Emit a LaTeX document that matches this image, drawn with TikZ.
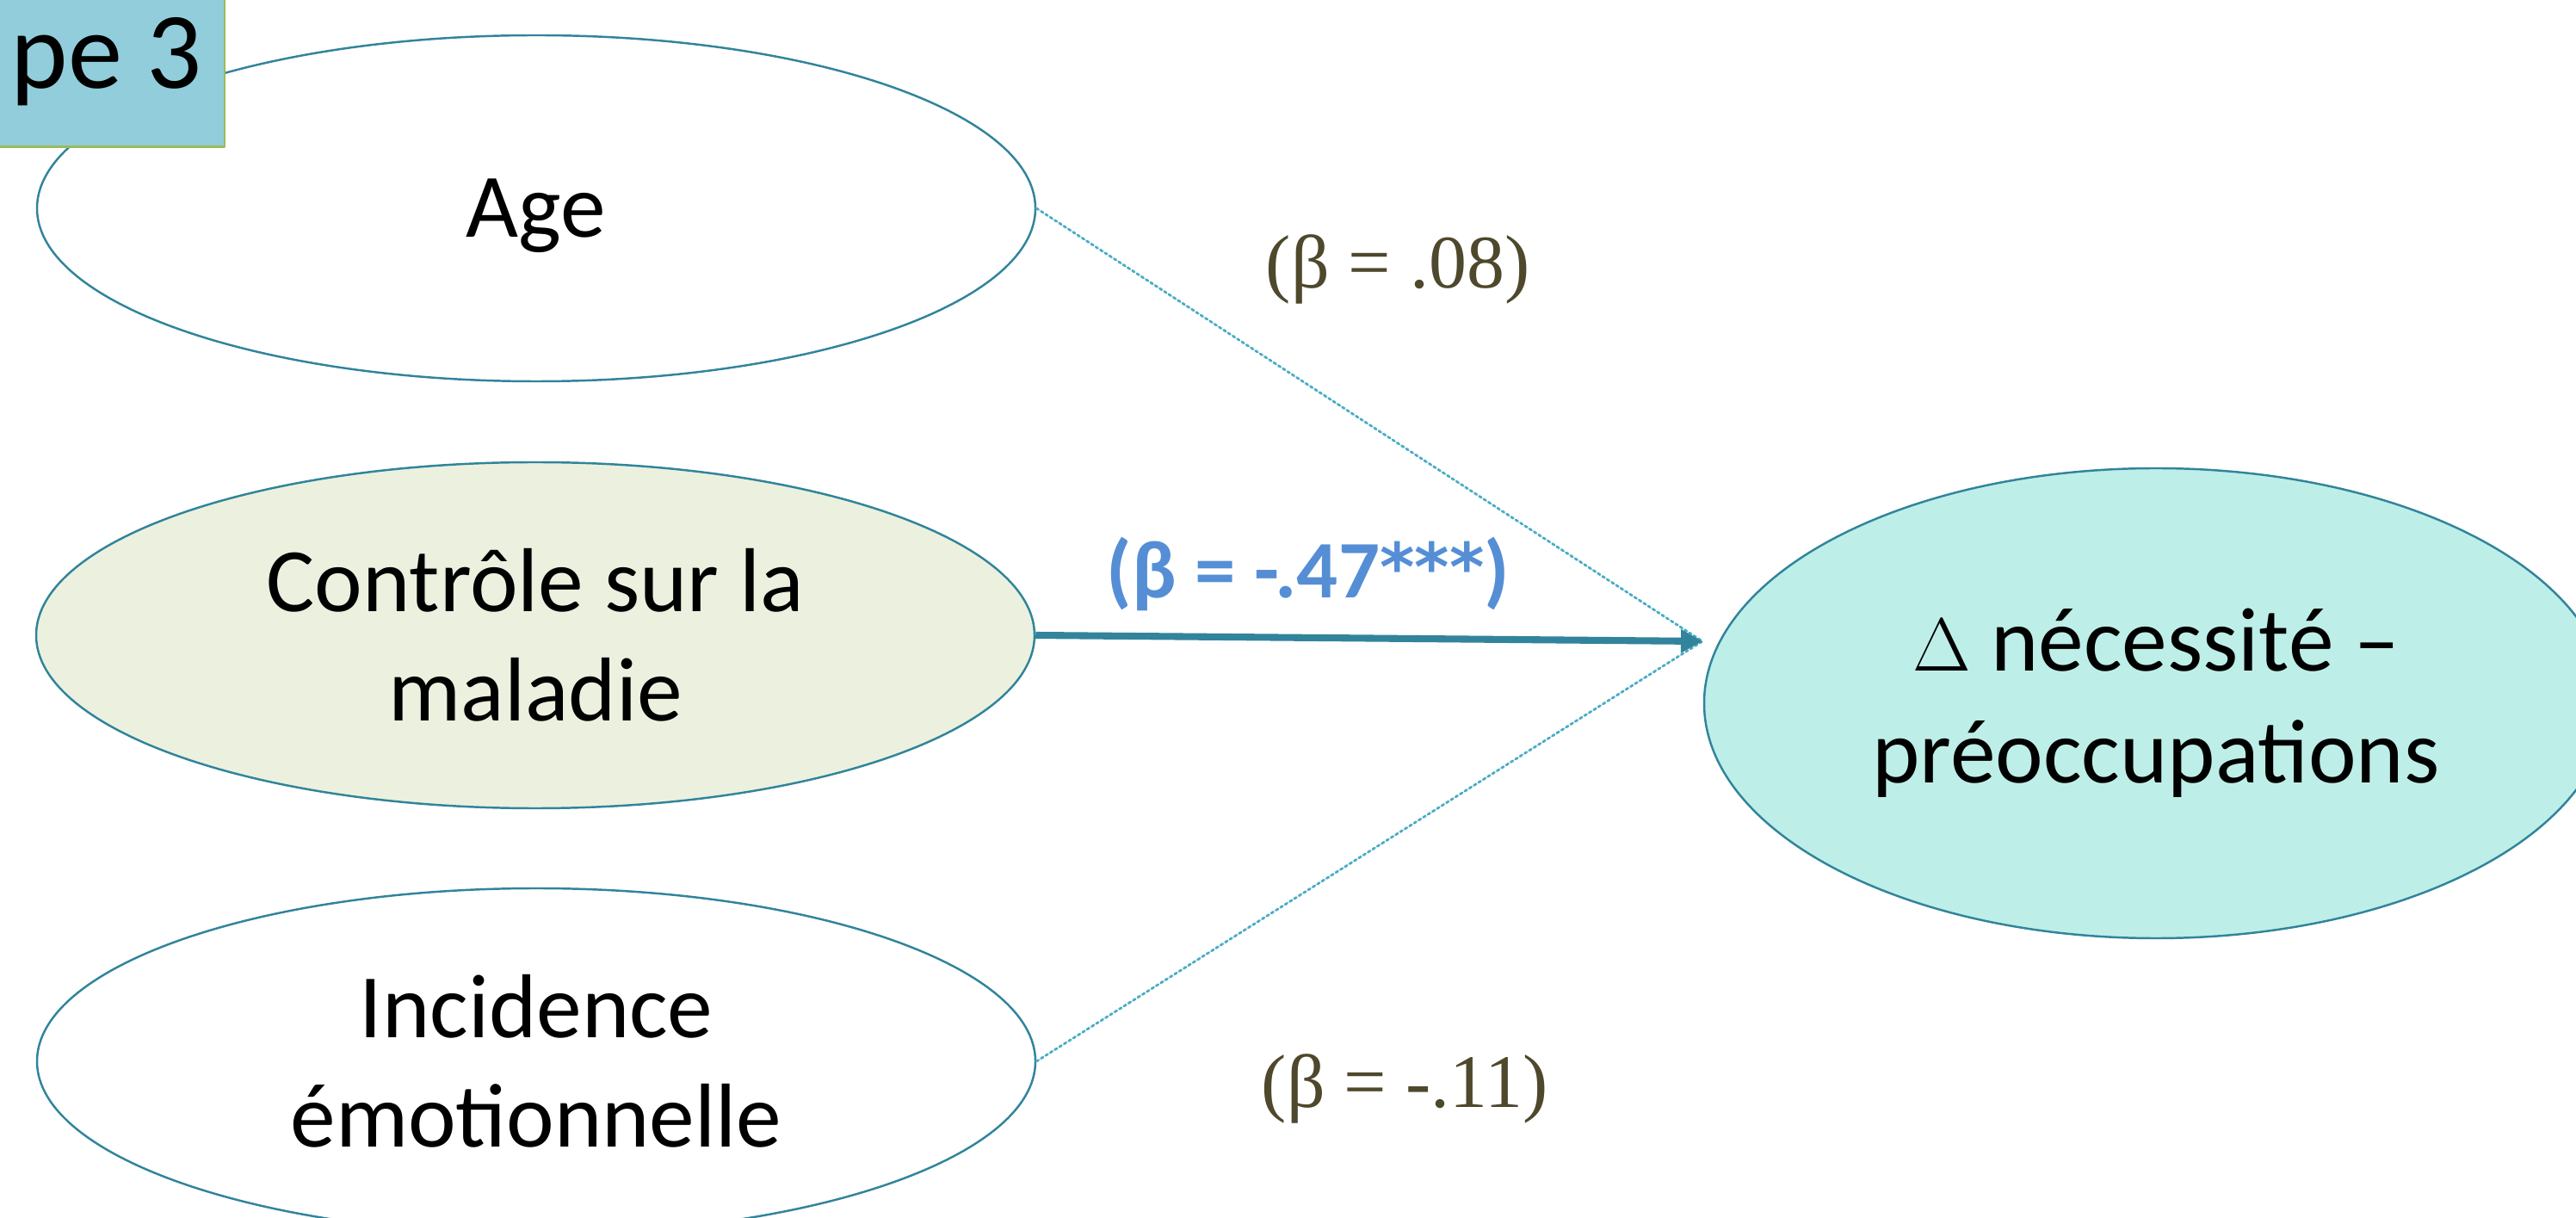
\documentclass[tikz,border=0pt]{standalone}
\usepackage{fontspec}
\setmainfont{Carlito}
\newfontfamily\betafont{Liberation Serif}
\newfontfamily\starfont{DejaVu Sans}
\usetikzlibrary{shapes.geometric,arrows.meta}
\definecolor{bordteal}{HTML}{31849B}
\definecolor{dotblue}{HTML}{4BACC6}
\definecolor{fillolive}{HTML}{EBF1DE}
\definecolor{fillturq}{HTML}{BEEEE8}
\definecolor{boxblue}{HTML}{92CDDC}
\definecolor{boxgreen}{HTML}{9BBB59}
\definecolor{betablue}{HTML}{558ED5}
\definecolor{betaolive}{HTML}{4E482C}
\begin{document}
\begin{tikzpicture}[line join=round, line cap=round, >={Triangle[length=0.25cm,width=0.26cm]}]
	\tikzset{var/.style={ellipse, draw=bordteal, line width=0.7pt, minimum width=11.6cm, minimum height=4.02cm, inner sep=0pt, align=center, font=\fontsize{30}{36}\selectfont},
		beta/.style={anchor=base, inner sep=0pt, text=betaolive, font=\betafont\fontsize{25}{30}\selectfont},
		weak/.style={draw=dotblue, densely dotted, line width=0.8pt}}
	\useasboundingbox (0,0) rectangle (29.93,14.14);
	\clip (0,0) rectangle (29.93,14.14);
	% predicteurs
	\node[var, text depth=0pt] (age) at (6.23,11.72) {Age};
	\node[var, fill=fillolive] (controle) at (6.22,6.76) {Contrôle sur la\\maladie};
	\node[var] (incidence) at (6.23,1.81) {Incidence\\émotionnelle};
	\node[var, fill=fillturq, minimum width=10.5cm, minimum height=5.46cm, font=\fontsize{30}{37}\selectfont] (necessite) at (25.05,5.97) {$\Delta$ nécessité –\\préoccupations};
	\coordinate (tip) at (19.78,6.69);
	\draw[weak] (age.east) -- (tip);
	\draw[weak] (incidence.east) -- (tip);
	\draw[->, draw=bordteal, fill=bordteal, line width=2.3pt, line cap=butt] (controle.east) -- (tip);
	% coefficients
	\node[beta] (b08) at (16.24,10.79) {(β = .08)};
	\node[beta, text=betablue, font=\fontsize{27}{32}\selectfont\bfseries] (b47) at (15.20,7.19) {(β = -.47\raisebox{2.5pt}{\starfont\fontsize{22}{22}\selectfont ***})};
	\node[beta] (b11) at (16.32,1.27) {(β = -.11)};
	% etape
	\draw[fill=boxblue, draw=boxgreen, line width=0.85pt] (-1,12.43) rectangle (2.61,14.6);
	\node[anchor=base west, inner sep=0pt, font=\fontsize{36}{43}\selectfont] (etape) at (0.12,13.11) {pe 3};
\end{tikzpicture}
\end{document}
